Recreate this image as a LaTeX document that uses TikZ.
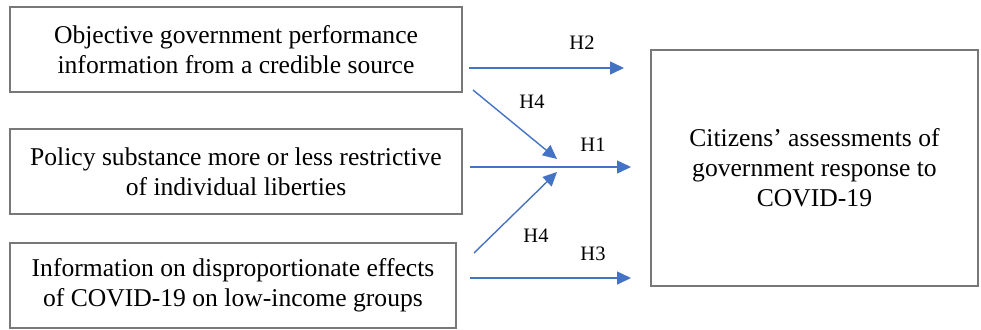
\documentclass[tikz,border=0pt]{standalone}
\usepackage{fontspec}
\setmainfont{Liberation Serif}
\usetikzlibrary{arrows.meta}
\definecolor{arrowblue}{RGB}{68,114,196}
\definecolor{boxgray}{RGB}{120,120,120}
\tikzset{
  inbox/.style={draw=boxgray, line width=1.1pt, align=center, inner sep=0pt,
    font=\fontsize{25.6}{30}\selectfont},
  hlink/.style={draw=arrowblue, line width=1.4pt, -{Triangle[length=14pt,width=13pt]}},
  hlabel/.style={font=\fontsize{20.5}{22}\selectfont, inner sep=0pt}
}
\begin{document}
\begin{tikzpicture}[x=1pt,y=-1pt]
\useasboundingbox (0,0) rectangle (981,329);
\node[inbox, minimum width=452pt, minimum height=85pt] (b1) at (236,49.5)
  {Objective government performance\\information from a credible source};
\node[inbox, minimum width=452pt, minimum height=85pt] (b2) at (236,171.5)
  {Policy substance more or less restrictive\\of individual liberties};
\node[inbox, minimum width=446pt, minimum height=85pt] (b3) at (233,285.5)
  {Information on disproportionate effects\\of COVID-19 on low-income groups};
\node[inbox, minimum width=327pt, minimum height=236pt] (out) at (814.5,168)
  {Citizens' assessments of\\government response to\\COVID-19};
\coordinate (s2) at (469,68);
\coordinate (e2) at (624,68);
\coordinate (s1) at (470,167);
\coordinate (e1) at (631,167);
\coordinate (s3) at (470,278);
\coordinate (e3) at (631,278);
\coordinate (s4a) at (473,90);
\coordinate (e4a) at (557,159);
\coordinate (s4b) at (474,253);
\coordinate (e4b) at (557,172);
\draw[hlink] (s2) -- (e2);
\draw[hlink] (s1) -- (e1);
\draw[hlink] (s3) -- (e3);
\draw[hlink] (s4a) -- (e4a);
\draw[hlink] (s4b) -- (e4b);
\node[hlabel] (l2) at (582,43) {H2};
\node[hlabel] (l4a) at (532,102) {H4};
\node[hlabel] (l1) at (593,145) {H1};
\node[hlabel] (l4b) at (536,236) {H4};
\node[hlabel] (l3) at (593,254) {H3};
\end{tikzpicture}
\end{document}
